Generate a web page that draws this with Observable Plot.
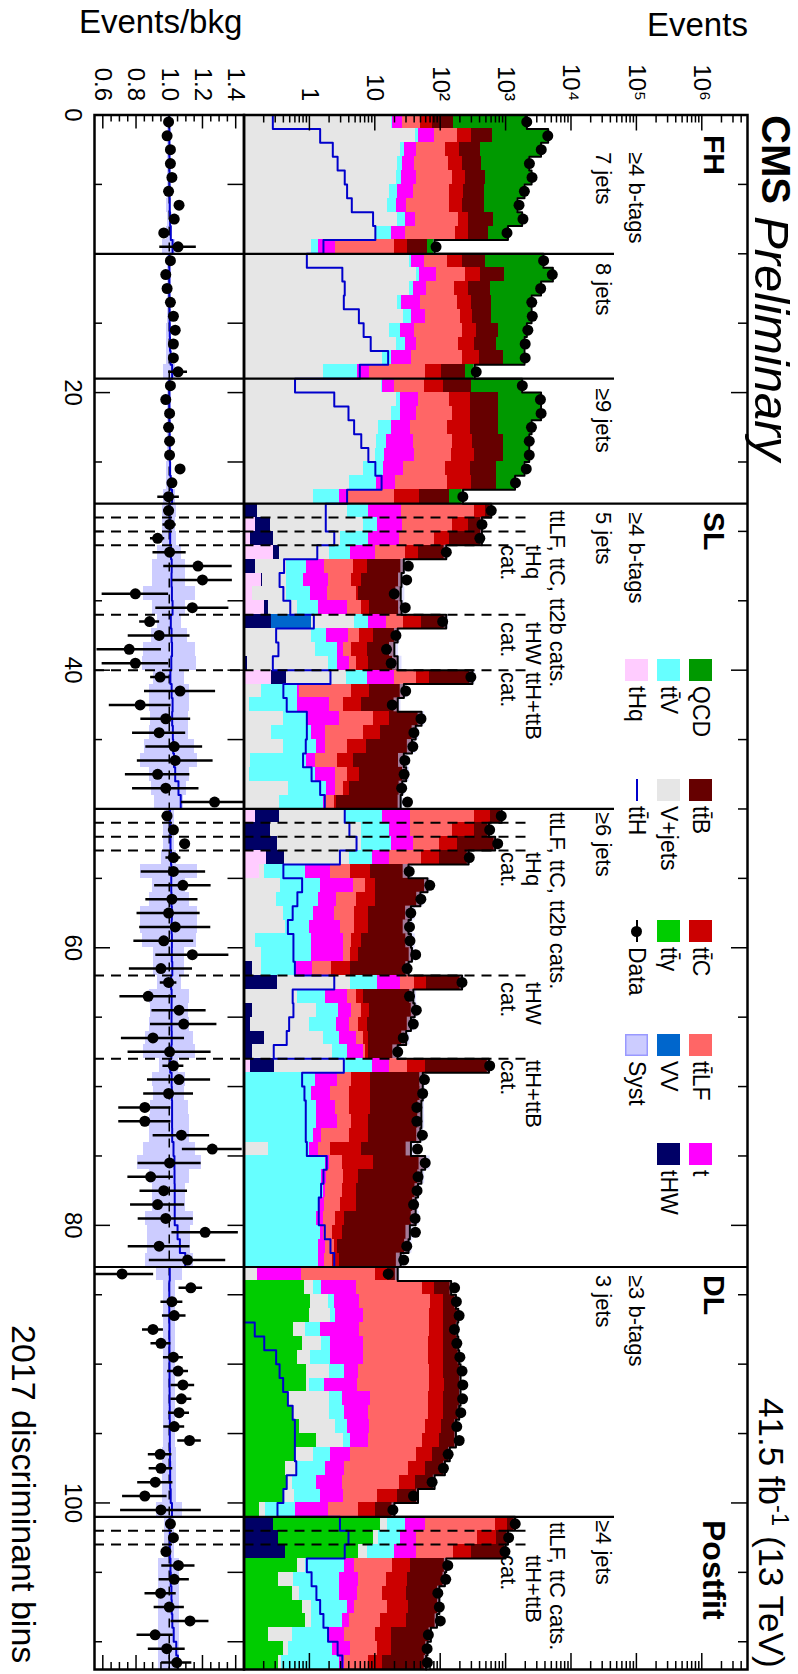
<!DOCTYPE html>
<html><head><meta charset="utf-8">
<script src="https://cdn.jsdelivr.net/npm/d3@7"></script>
<script src="https://cdn.jsdelivr.net/npm/@observablehq/plot@0.6"></script>
<style>
body{margin:0;background:#fff;}
#wrap{position:relative;width:798px;height:1674px;overflow:hidden;font-family:"Liberation Sans",Arial,Helvetica,sans-serif;color:#000;}
#wrap svg{position:absolute;left:0;top:0;}
.vt{position:absolute;left:0;top:0;white-space:nowrap;line-height:1;transform-origin:0 0;}
.vt sup{font-size:0.68em;line-height:0;vertical-align:0.55em;}
.ht{position:absolute;white-space:nowrap;line-height:1;}
.box{position:absolute;}
</style></head><body><div id="wrap"></div>
<script>
// ---------------- data (bin index 0..111; channels FH 0-27, SL 5j 28-49, SL >=6j 50-82, DL 3j 83-100, DL >=4j 101-111)
const QCD = [1957,3849,3064,1863,2002,1473,1043,1131,529,18.1, 3291,4319,2897,1891,1891,1336,1229,1026,95, 1489,2706,2706,1719,1378,1378,1229,678,83,
 0,0,0,0,0,0,0,0,0,0,0,0,0,0,0,0,0,0,0,0,0,0,
 0,0,0,0,0,0,0,0,0,0,0,0,0,0,0,0,0,0,0,0,0,0,0,0,0,0,0,0,0,0,0,0,0,
 0,0,0,0,0,0,0,0,0,0,0,0,0,0,0,0,0,0,
 0,0,0,0,0,0,0,0,0,0,0];
const ttB = [81.5,328,225,211,252,241,249,387,285,32.8, 279,547,315,307,295,422,378,519,138, 190,492,492,492,608,581,430,417,92,
 111,162,294,78,20.1,19.4,19.2,17.4,72,12.7,12.2,14.4,242,19.6,16.2,35,30.1,29.7,23.1,24.3,22.2,22.3,
 283,219,510,175,24.1,53.8,39.6,27.7,24.8,29.5,31.3,28.6,155,32.1,32.5,28,22.2,14.4,498,45.5,45.5,42.9,43.6,41.8,29.5,49.5,45.9,40.5,36.9,38.7,31.2,30.1,22,
 6.9,64.9,63,78,72,78,84,94,90,94,84,69,77,64.5,59,39.9,23.4,9.7,
 308,370,700,88,86.8,66.8,64.2,59,53.7,45.7,47.9];
const ttC = [25.7,116,76,88,88,91,83,83,98,11.3, 85,177,106,116,106,133,149,177,46, 54,146,131,155,156,191,167,168,28,
 157,117,58,16.6,3.0,1.76,0.45,2.04,23.8,3.8,3.25,2.71,25.6,3.8,2.85,7.5,5.35,3.56,1.98,2.13,0.73,0.18,
 249,183,86,45.4,4.43,2.87,4.94,3.14,3.14,1.76,1.48,2.06,20.3,1.49,2.04,2.0,1.22,0.64,27.7,4.21,4.57,4.57,3.52,3.88,4.11,6.22,2.35,2.07,2.23,0.99,0.91,0.31,0.65,
 5.3,27.9,39,41.5,41.5,44,44,41.5,45.5,44,44,46,42.8,31.7,26.1,18.7,11.3,4.5,
 393,348,139,17.4,16.2,17.1,17.3,18.1,8.1,7.5,5.13];
const ttLF = [23.5,101,75,94,111,101,110,147,145,17.4, 74,154,105,133,146,182,145,186,50.7, 37,94,111,95,116,106,91,110,16.1,
 312,129,58.6,19,2.96,2.52,3.33,2.44,12.8,1.94,1.09,1.17,24,3.74,1.33,6.48,4.97,2.0,1.47,1.29,0.88,0.61,
 302,119,58,34.7,2.13,2.65,2.69,2.44,1.8,1.09,0.87,1.07,15.8,1.49,1.76,1.62,1.49,0.58,14.3,1.75,1.99,1.61,1.75,2.58,0.71,1.16,1.52,1.41,1.31,0.84,0.64,0.61,0.56,
 9.45,48.9,66.1,62.8,63.6,60.3,60.3,63.8,64,58.3,59,50.7,46.2,39.6,29.3,20.3,7.74,3.78,
 634,324,116,13.5,9.3,7.6,10.7,8.0,6.73,6.57,4.5];
const singleTop = [8.0,35.6,15.8,14.2,18.3,16.4,8.5,13,10.9,1.09, 20,41,22,24,22,16.4,14.8,18.7,2.8, 7.2,21.5,19.7,17.4,23.8,26.4,14,10.3,0.84,
 17.6,15.2,15.5,6.0,0.81,1.13,0.89,2.38,7.0,2.12,0.66,1.39,12.2,0.06,1.38,1.98,0.7,0.5,0.32,1.25,0.64,0.14,
 22.6,18.8,20.5,7.8,1.22,3.22,1.18,1.22,2.04,2.28,2.28,0.5,14.1,2.0,1.61,1.52,2.33,2.98,7.8,1.47,1.02,1.2,1.42,0.34,0.4,0.25,0.33,0.14,0.33,0.36,0.18,0.39,0.33,
 0.59,3.75,3.51,4.27,4.44,4.65,4.65,2.24,3.8,5.47,4.5,4.48,3.74,2.13,1.69,1.91,1.9,1.33,
 29.7,19.1,24.1,1.36,2.78,2.59,1.06,0.9,1.54,1.95,0.54];
const ttV = [0.4,4.3,3.9,4.1,3.9,5.5,6.2,6.8,7.6,0.31, 2.5,4.4,4.3,3.2,9.2,7.4,7.5,5.2,3.76, 0.3,2.6,6,6.8,4.3,4.1,7.05,6.6,1.76,
 4.2,4.35,4.94,2.2,0.46,0.35,0.59,0.74,3.14,0.76,1.47,0.77,3.9,0.47,0.53,0.55,0.82,0.88,0.79,1.11,1.36,1.29,
 9.6,10.7,12.1,5.0,0.68,1.09,1.08,0.77,0.56,0.93,0.89,0.415,6.6,1.12,1.56,1.58,1.29,1.49,5.6,1.18,1.03,1.23,1.23,1.12,0.75,1.73,1.46,1.59,1.34,1.23,1.41,1.34,1.34,
 0,0.34,0.46,0.38,0.575,0.59,1.06,1.44,0.73,1.16,1.44,1.29,0.87,0.93,1.13,0.72,0.86,0.39,
 13.7,13.4,12.2,2.59,2.36,2.22,2.69,2.11,1.38,1.8,2.55];
const Vjets = [18.3,42.2,24.3,22.4,21.7,16.9,15.5,22.4,10.7,1.08, 34.5,43.8,34.5,22.4,27.8,16.9,21.7,13.1,1.64, 12.7,21.7,18.3,11.5,10.7,10.2,6.75,4.09,1.17,
 3.61,6.5,2.75,1.68,0.3,0.26,0.31,0.42,3.75,1.06,1.23,1.82,3.3,0.188,0.12,0.4,0.262,0.397,0.124,0.12,0.485,0.35,
 3.12,5.96,5.9,3.68,0.03,0.366,0.31,0.397,0.432,0.15,0.188,0.053,3.9,0.655,1.14,0.87,1.44,2.15,3.18,0.05,0.05,0.05,0.05,0.05,0.241,0.05,0.05,0.05,0.05,0.05,0.05,0.05,0.05,
 0.159,0.33,0.89,1.11,0.31,0.74,0.385,1.12,0.08,1.55,1.48,1.77,2.08,0.57,0.22,0.09,0.19,0.04,
 3.4,2.09,1.99,0.23,0.24,0.16,0.31,0.2,0.31,0.09,0.04];
const ttGamma = [0,0,0,0,0,0,0,0,0,0,0,0,0,0,0,0,0,0,0,0,0,0,0,0,0,0,0,0,
 0,0,0,0,0,0,0,0,0,0,0,0,0,0,0,0,0,0,0,0,0,0,
 0,0,0,0,0,0,0,0,0,0,0,0,0,0,0,0,0,0,0,0,0,0,0,0,0,0,0,0,0,0,0,0,0,
 0,0.841,1.04,0.993,0.575,0.774,0.655,0.914,0.914,0.485,0.555,0.712,1.28,0.603,0.432,0.469,0.41,0.173,
 11.8,9.07,5.28,0.655,0.336,0.555,0.774,0.885,0.241,0.397,0.336];
const VV = [0,0,0,0,0,0,0,0,0,0,0,0,0,0,0,0,0,0,0,0,0,0,0,0,0,0,0,0,
 0,0,0,0,0,0,0,0,0.82,0,0,0,0,0,0,0,0,0,0,0,0,0,
 0,0,0,0,0,0,0,0,0,0,0,0,0,0,0,0,0,0,0,0,0,0,0,0,0,0,0,0,0,0,0,0,0,
 0,0,0,0,0,0,0,0,0,0,0,0,0,0,0,0,0,0,
 0,0,0,0,0,0,0,0,0,0,0];
const tHW = [0,0,0,0,0,0,0,0,0,0,0,0,0,0,0,0,0,0,0,0,0,0,0,0,0,0,0,0,
 0.14,0.10,0.16,0.06,0.1,0.005,0,0.03,0.24,0,0,0.115,0.19,0,0,0,0,0,0,0,0,0,
 0.2,0.2,0.27,0.19,0,0,0,0,0,0,0,0.135,0.3,0,0.135,0.124,0.204,0.135,0.17,0,0,0,0,0,0,0,0,0,0,0,0,0,0,
 0,0,0,0,0,0,0,0,0,0,0,0,0,0,0,0,0,0,
 0.285,0.336,0.432,0,0,0,0,0,0,0,0];
const tHq = [0,0,0,0,0,0,0,0,0,0,0,0,0,0,0,0,0,0,0,0,0,0,0,0,0,0,0,0,
 0.02,0.15,0.124,0.285,0.05,0.188,0.135,0.204,0.02,0,0,0,0.262,0,0,0,0,0,0,0,0,0,
 0.15,0.05,0.05,0.222,0.173,0,0,0,0,0,0,0,0.02,0,0,0,0,0,0.124,0,0,0,0,0,0,0,0,0,0,0,0,0,0,
 0,0,0,0,0,0,0,0,0,0,0,0,0,0,0,0,0,0,
 0,0,0,0,0,0,0,0,0,0,0];
const ttH = [0.276,1.46,2.28,2.70,3.47,3.77,4.45,9.41,10.2,1.64, 0.914,3.19,3.47,3.36,5.71,6.75,8.66,16,5.9, 0.603,2.4,3.96,4.83,6.21,7.97,10.2,12.7,3.77,
 1.78,1.78,2.4,1.32,0.41,0.35,0.4,0.51,1.17,0.31,0.336,0.276,2.1,0.4,0.45,0.914,0.914,0.88,0.8,1.08,1.46,1.72,
 3.47,4.09,5.26,2.93,0.4,0.774,0.655,0.555,0.469,0.57,0.57,0.6,2.4,0.555,0.57,0.49,0.45,0.285,3.36,0.774,0.84,0.88,0.88,0.88,0.914,1.84,1.64,1.51,1.39,1.39,1.72,2.1,2.4,
 0.07,0.07,0.07,0.07,0.146,0.204,0.31,0.35,0.397,0.469,0.555,0.6,0.6,0.6,0.63,0.45,0.4,0.325,
 2.93,3.96,3.47,0.914,1.08,1.28,1.46,1.64,1.93,2.7,3.19];
const dataOverBkg = [0.996,0.987,1.007,1.007,1.016,0.996,1.059,1.030,0.967,1.053, 1.007,0.979,0.987,1.007,1.025,1.036,1.025,1.025,1.053, 1.007,0.979,1.002,0.996,1.002,1.002,1.065,1.016,0.996,
 0.996,1.002,0.930,1.002,1.173,1.20,0.796,1.139,0.882,0.939,0.759,0.796,0.945,1.065,0.825,0.979,0.939,1.030,1.036,0.930,0.979,1.273,
 0.987,1.025,1.093,1.025,1.025,1.082,1.016,0.996,1.036,0.967,1.139,0.950,0.996,0.873,1.059,1.087,0.902,1.002,1.025,1.059,0.996,0.853,0.853,1.073,1.259,1.002,0.888,0.967,0.930,0.979,1.216,0.939,1.110,
 0.716,1.130,1.016,1.030,0.902,0.950,1.025,1.053,1.082,1.073,1.059,1.030,1.122,0.945,0.950,0.916,0.853,0.950,
 1.007,1.025,0.98,1.055,1.03,0.948,1.0,1.125,0.915,0.985,1.045];
const dataErr = [0.015,0.015,0.015,0.015,0.015,0.015,0.015,0.015,0.015,0.11, 0.015,0.015,0.015,0.015,0.015,0.015,0.015,0.015,0.057, 0.015,0.015,0.015,0.015,0.015,0.015,0.015,0.015,0.065,
 0.029,0.04,0.043,0.1,0.206,0.18,0.2,0.22,0.06,0.186,0.194,0.2,0.057,0.214,0.186,0.15,0.16,0.171,0.228,0.194,0.2,0.2,
 0.03,0.03,0.03,0.045,0.194,0.17,0.157,0.19,0.214,0.18,0.22,0.19,0.05,0.17,0.163,0.2,0.19,0.25,0.063,0.19,0.15,0.157,0.157,0.17,0.18,0.19,0.137,0.143,0.163,0.166,0.2,0.186,0.23,
 0.19,0.071,0.066,0.071,0.063,0.06,0.06,0.063,0.071,0.063,0.063,0.063,0.071,0.071,0.071,0.106,0.134,0.243,
 0.025,0.025,0.025,0.1,0.091,0.094,0.091,0.114,0.109,0.111,0.091];
const systRel = [0.012,0.012,0.013,0.012,0.012,0.013,0.014,0.013,0.015,0.04, 0.012,0.012,0.012,0.013,0.013,0.014,0.014,0.015,0.035, 0.012,0.012,0.012,0.013,0.013,0.013,0.014,0.016,0.035,
 0.043,0.04,0.043,0.071,0.1,0.1,0.157,0.1,0.071,0.107,0.157,0.164,0.093,0.121,0.121,0.114,0.118,0.15,0.171,0.121,0.104,0.086,
 0.031,0.034,0.034,0.046,0.171,0.1,0.121,0.171,0.171,0.164,0.093,0.093,0.071,0.121,0.114,0.121,0.143,0.157,0.057,0.1,0.093,0.114,0.121,0.121,0.157,0.193,0.121,0.1,0.1,0.143,0.129,0.129,0.143,
 0.079,0.035,0.035,0.035,0.035,0.035,0.035,0.035,0.035,0.035,0.035,0.035,0.035,0.043,0.043,0.043,0.043,0.079,
 0.029,0.029,0.029,0.063,0.063,0.063,0.063,0.063,0.063,0.063,0.063];

// category boundaries (bin edges)
const channelEdges = [28, 83];
const jetEdges = [10, 19, 50, 101];
const subcatEdges = [29, 30, 31, 36, 40, 51, 52, 53, 62, 68, 102, 103];

// axis ticks / labels
const eventTicks = [1, 10, 100, 1e3, 1e4, 1e5, 1e6];
const eventLabels = ["1", "10", "10²", "10³", "10⁴", "10⁵", "10⁶"];
const ratioTicks = [0.6, 0.8, 1.0, 1.2, 1.4];
const ratioLabels = ["0.6", "0.8", "1.0", "1.2", "1.4"];
const binTickLabels = [0, 20, 40, 60, 80, 100];

// processes, stacked bottom -> top
const processes = [
  {name: "tHq", values: tHq, color: "#ffccff"},
  {name: "tHW", values: tHW, color: "#000066"},
  {name: "VV", values: VV, color: "#0066cc"},
  {name: "ttγ", values: ttGamma, color: "#00cc00"},
  {name: "V+jets", values: Vjets, color: "#e6e6e6"},
  {name: "ttV", values: ttV, color: "#66ffff"},
  {name: "t", values: singleTop, color: "#ff00ff"},
  {name: "ttLF", values: ttLF, color: "#ff6666"},
  {name: "ttC", values: ttC, color: "#cc0000"},
  {name: "ttB", values: ttB, color: "#660000"},
  {name: "QCD", values: QCD, color: "#009900"}
];

// ---------------- build
const NB = 112;
[["QCD",QCD],["ttB",ttB],["ttC",ttC],["ttLF",ttLF],["t",singleTop],["ttV",ttV],["Vjets",Vjets],["ttGamma",ttGamma],["VV",VV],["tHW",tHW],["tHq",tHq],["ttH",ttH],["data",dataOverBkg],["err",dataErr],["syst",systRel]]
  .forEach(([n, a]) => { if (a.length !== NB) throw new Error(n + " length " + a.length); });

const YMIN = 0.1, YMAX = 5e6;
const bins = d3.range(NB);
const rects = [];
const total = [];
for (const b of bins) {
  let cum = 0;
  for (const p of processes) {
    const v = p.values[b];
    if (!(v > 0)) continue;
    const lo = cum; cum += v;
    if (cum > YMIN) rects.push({b, x1: Math.max(lo, YMIN), x2: cum, proc: p.name});
  }
  total[b] = cum;
}
const outline = bins.flatMap(b => [{x: total[b], y: b}, {x: total[b], y: b + 1}]);
const tthLine = bins.flatMap(b => [{x: ttH[b], y: b}, {x: ttH[b], y: b + 1}]);
const tthRatio = bins.flatMap(b => [{x: 1 + ttH[b] / total[b], y: b}, {x: 1 + ttH[b] / total[b], y: b + 1}]);

const W = 798, H = 1674, MT = 114.5, MB = 5;
const RL = 94, RR = 243.5, MR = 747;
const FH = H - MT - MB;
const MW = MR - RR, RW = RR - RL;
const FONT = '"Liberation Sans", Arial, Helvetica, sans-serif';

const minorEvent = [];
for (let e = -1; e <= 6; e++) for (let m = 2; m <= 9; m++) { const v = m * 10 ** e; if (v < YMAX) minorEvent.push(v); }
const minorRatio = d3.range(0.6, 1.451, 0.05).filter(v => !ratioTicks.some(t => Math.abs(t - v) < 1e-6));
const binMajor = [20, 40, 60, 80, 100];
const binMinor = d3.range(5, 112, 5).filter(v => v % 20 !== 0);

const yScale = {domain: [0, NB], reverse: true, axis: null};

const main = Plot.plot({
  width: W, height: H, marginLeft: RR, marginRight: W - MR, marginTop: MT, marginBottom: MB,
  style: {background: "transparent", fontFamily: FONT, overflow: "visible"},
  x: {type: "log", domain: [YMIN, YMAX], axis: null},
  y: yScale,
  color: {domain: processes.map(p => p.name), range: processes.map(p => p.color)},
  marks: [
    Plot.rect(rects, {x1: "x1", x2: "x2", y1: d => d.b, y2: d => d.b + 1, fill: "proc", shapeRendering: "crispEdges"}),
    Plot.rect(bins, {x1: b => total[b] * (1 - systRel[b]), x2: b => total[b] * (1 + systRel[b]), y1: b => b, y2: b => b + 1, fill: "#ccccff", fillOpacity: 0.6}),
    Plot.line(outline, {x: "x", y: "y", stroke: "black", strokeWidth: 2}),
    Plot.line(tthLine, {x: "x", y: "y", stroke: "#0000cc", strokeWidth: 2, clip: true}),
    Plot.ruleY(channelEdges, {stroke: "black", strokeWidth: 2.2}),
    Plot.ruleY(jetEdges, {stroke: "black", strokeWidth: 2.2, insetRight: 133}),
    Plot.ruleY(subcatEdges, {stroke: "black", strokeWidth: 2, strokeDasharray: "10,7", insetRight: 217}),
    Plot.dot(bins, {x: b => dataOverBkg[b] * total[b], y: b => b + 0.5, r: 5.5, fill: "black"}),
    Plot.tickX(eventTicks, {x: d => d, insetBottom: FH - 16, strokeWidth: 1.5}),
    Plot.tickX(minorEvent, {x: d => d, insetBottom: FH - 8, strokeWidth: 1.5}),
    Plot.tickX(eventTicks, {x: d => d, insetTop: FH - 16, strokeWidth: 1.5}),
    Plot.tickX(minorEvent, {x: d => d, insetTop: FH - 8, strokeWidth: 1.5}),
    Plot.tickY(binMajor, {y: d => d, insetLeft: MW - 16, strokeWidth: 1.5}),
    Plot.tickY(binMinor, {y: d => d, insetLeft: MW - 9, strokeWidth: 1.5}),
    Plot.frame({stroke: "black", strokeWidth: 2.5}),
    Plot.text(eventTicks, {x: d => d, text: (d, i) => eventLabels[i], frameAnchor: "top", dy: -14, rotate: 90, textAnchor: "end", lineAnchor: "middle", fontSize: 24, fontFamily: FONT, fill: "black"})
  ]
});

const ratio = Plot.plot({
  width: W, height: H, marginLeft: RL, marginRight: W - RR, marginTop: MT, marginBottom: MB,
  style: {background: "transparent", fontFamily: FONT, overflow: "visible"},
  x: {domain: [0.55, 1.45], axis: null},
  y: yScale,
  marks: [
    Plot.rect(bins, {x1: b => 1 - systRel[b], x2: b => 1 + systRel[b], y1: b => b, y2: b => b + 1, fill: "#ccccff", shapeRendering: "crispEdges"}),
    Plot.ruleX([1], {stroke: "black", strokeWidth: 1.5, strokeDasharray: "9,7"}),
    Plot.line(tthRatio, {x: "x", y: "y", stroke: "#0000cc", strokeWidth: 2, clip: true}),
    Plot.ruleY(channelEdges.concat(jetEdges), {stroke: "black", strokeWidth: 2.2}),
    Plot.ruleY(subcatEdges, {stroke: "black", strokeWidth: 2, strokeDasharray: "10,7"}),
    Plot.ruleY(bins, {y: b => b + 0.5, x1: b => dataOverBkg[b] - dataErr[b], x2: b => dataOverBkg[b] + dataErr[b], stroke: "black", strokeWidth: 2.5, clip: true}),
    Plot.dot(bins, {x: b => dataOverBkg[b], y: b => b + 0.5, r: 5.5, fill: "black", clip: true}),
    Plot.tickX(ratioTicks, {x: d => d, insetBottom: FH - 14, strokeWidth: 1.5}),
    Plot.tickX(minorRatio, {x: d => d, insetBottom: FH - 7, strokeWidth: 1.5}),
    Plot.tickX(ratioTicks, {x: d => d, insetTop: FH - 14, strokeWidth: 1.5}),
    Plot.tickX(minorRatio, {x: d => d, insetTop: FH - 7, strokeWidth: 1.5}),
    Plot.tickY(binMajor, {y: d => d, insetRight: RW - 16, strokeWidth: 1.5}),
    Plot.tickY(binMinor, {y: d => d, insetRight: RW - 8, strokeWidth: 1.5}),
    Plot.tickY(binMajor, {y: d => d, insetLeft: RW - 16, strokeWidth: 1.5}),
    Plot.tickY(binMinor, {y: d => d, insetLeft: RW - 16, strokeWidth: 1.5}),
    Plot.frame({stroke: "black", strokeWidth: 2.5}),
    Plot.text(ratioTicks, {x: d => d, text: (d, i) => ratioLabels[i], frameAnchor: "top", dy: -14, rotate: 90, textAnchor: "end", lineAnchor: "middle", fontSize: 24, fontFamily: FONT, fill: "black"}),
    Plot.text(binTickLabels, {y: d => d, text: d => String(d), frameAnchor: "left", dx: -22, rotate: 90, textAnchor: "middle", lineAnchor: "middle", fontSize: 24, fontFamily: FONT, fill: "black"})
  ]
});

const wrap = document.getElementById("wrap");
wrap.appendChild(main);
wrap.appendChild(ratio);

// ---------------- text & legend overlays
function vtext(html, cx, y0, size, o = {}) {
  const el = document.createElement("div");
  el.className = "vt";
  el.innerHTML = html;
  el.style.fontSize = size + "px";
  if (o.bold) el.style.fontWeight = "bold";
  if (o.italic) el.style.fontStyle = "italic";
  wrap.appendChild(el);
  const w = el.offsetWidth, h = el.offsetHeight;
  const X = cx + h / 2, Y = o.end ? y0 - w : y0;
  el.style.transform = `translate(${X}px,${Y}px) rotate(90deg)`;
}
function htext(str, x, top, size, right) {
  const el = document.createElement("div");
  el.className = "ht";
  el.textContent = str;
  el.style.fontSize = size + "px";
  el.style.top = top + "px";
  wrap.appendChild(el);
  el.style.left = (right ? x - el.offsetWidth : x) + "px";
}
function box(x, y, w, h, bg, border) {
  const el = document.createElement("div");
  el.className = "box";
  Object.assign(el.style, {left: x + "px", top: y + "px", width: w + "px", height: h + "px", background: bg});
  if (border) el.style.boxShadow = "inset 0 0 0 1.5px " + border;
  wrap.appendChild(el);
  return el;
}

htext("Events/bkg", 79, 5, 33, false);
htext("Events", 748, 8, 33, true);

vtext("CMS", 776, 115, 40, {bold: true});
vtext("Preliminary", 771, 216, 49, {italic: true});
vtext("41.5 fb<sup>-1</sup> (13 TeV)", 771, 1668, 35, {end: true});
vtext("2017 discriminant bins", 24, 1663, 34, {end: true});

// channel / category labels
const lab = 22;
vtext("FH", 714, 135, 30, {bold: true});
vtext("≥4 b-tags", 636, 152, lab);
vtext("7 jets", 603, 152, lab);
vtext("8 jets", 603, 263, lab);
vtext("≥9 jets", 603, 388, lab);
vtext("SL", 714, 512, 30, {bold: true});
vtext("≥4 b-tags", 636, 512, lab);
vtext("5 jets", 603, 512, lab);
vtext("ttLF, ttC, tt2b cats.", 557, 510, lab);
vtext("tHq", 533, 545, lab); vtext("cat.", 508, 545, lab);
vtext("tHW", 533, 622, lab); vtext("cat.", 508, 622, lab);
vtext("ttH+ttB", 533, 672, lab); vtext("cat.", 508, 672, lab);
vtext("≥6 jets", 603, 812, lab);
vtext("ttLF, ttC, tt2b cats.", 557, 812, lab);
vtext("tHq", 533, 852, lab); vtext("cat.", 508, 852, lab);
vtext("tHW", 533, 982, lab); vtext("cat.", 508, 982, lab);
vtext("ttH+ttB", 533, 1060, lab); vtext("cat.", 508, 1060, lab);
vtext("DL", 714, 1275, 30, {bold: true});
vtext("≥3 b-tags", 636, 1275, lab);
vtext("3 jets", 603, 1275, lab);
vtext("≥4 jets", 603, 1520, lab);
vtext("ttLF, ttC cats.", 557, 1522, lab);
vtext("ttH+ttB", 533, 1555, lab); vtext("cat.", 508, 1555, lab);
vtext("Postfit", 714, 1520, 32, {bold: true});

// legend
const legendCols = [689, 657, 625];
const legendRows = [659, 779, 920, 1034, 1143];
const legendEntries = [
  [0, 0, "QCD", "#009900"], [0, 1, "tt̄B", "#660000"], [0, 2, "tt̄C", "#cc0000"], [0, 3, "tt̄LF", "#ff6666"], [0, 4, "t", "#ff00ff"],
  [1, 0, "tt̄V", "#66ffff"], [1, 1, "V+jets", "#e6e6e6"], [1, 2, "tt̄γ", "#00cc00"], [1, 3, "VV", "#0066cc"], [1, 4, "tHW", "#000066"],
  [2, 0, "tHq", "#ffccff"], [2, 1, "tt̄H", "line"], [2, 2, "Data", "data"], [2, 3, "Syst", "syst"]
];
for (const [c, r, name, col] of legendEntries) {
  const x = legendCols[c], y = legendRows[r];
  if (col === "line") box(x + 10.5, y, 2.5, 22, "#0000cc");
  else if (col === "data") {
    box(x + 10.5, y, 2, 22, "#000");
    const d = box(x + 6, y + 6, 11, 11, "#000"); d.style.borderRadius = "50%";
  } else if (col === "syst") box(x, y, 23, 22, "#ccccff", "#9999ff");
  else box(x, y, 23, 22, col);
  vtext(name, x + 11.5, y + 27, 23);
}
</script></body></html>
